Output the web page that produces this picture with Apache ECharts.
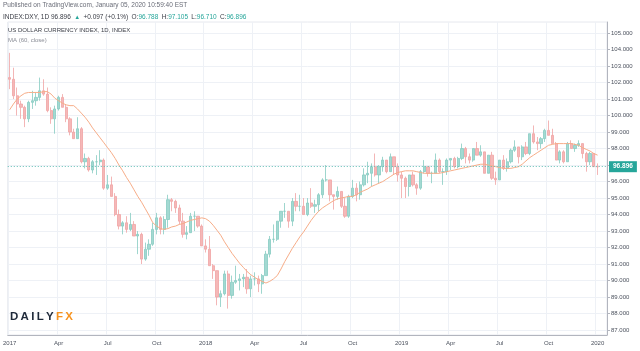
<!DOCTYPE html>
<html>
<head>
<meta charset="utf-8">
<title>US Dollar Currency Index</title>
<script src="https://cdn.jsdelivr.net/npm/echarts@6.0.0/dist/echarts.min.js"></script>
<style>
  html, body { margin: 0; padding: 0; background: #fff; }
  #main { width: 640px; height: 351px; }
</style>
</head>
<body>
<div id="main"></div>
<script>
// weekly bars, Jan 2017 - Jan 2020
var opens = [
  102.3, 102.2, 101.2, 100.7, 100.5, 99.8, 100.8, 100.9, 101.1, 101.5, 101.3, 100.3, 99.8,
  100.4, 101.1, 100.5, 99.8, 99.0, 98.6, 99.2, 97.2, 97.4, 96.7, 97.2, 97.2, 97.3,
  95.6, 95.8, 95.1, 94.0, 93.3, 93.5, 93.1, 93.4, 92.7, 92.8, 91.3, 91.9, 92.2,
  93.1, 93.8, 93.1, 93.7, 94.9, 94.8, 94.4, 93.6, 92.8, 92.9, 93.9, 93.9, 93.3,
  92.1, 91.9, 90.9, 90.6, 89.0, 89.2, 90.4, 89.1, 89.9, 90.0, 90.1, 90.2, 89.5,
  90.1, 90.1, 89.8, 90.3, 91.6, 92.5, 92.5, 93.6, 94.2, 94.2, 93.6, 94.8, 94.5,
  94.5, 94.0, 94.7, 94.5, 94.6, 95.2, 96.1, 96.1, 95.2, 95.1, 95.4, 94.5, 93.9,
  95.1, 95.6, 95.2, 95.8, 96.4, 96.5, 96.9, 96.4, 96.9, 97.3, 96.6, 97.5, 96.9,
  96.4, 96.2, 95.7, 96.4, 95.8, 95.6, 96.6, 96.9, 96.5, 96.5, 97.3, 96.6, 96.6,
  97.3, 97.4, 96.9, 97.4, 98.0, 97.5, 97.3, 98.0, 97.6, 97.8, 96.5, 97.6, 96.2,
  96.1, 97.3, 96.8, 97.2, 97.9, 98.1, 97.5, 98.1, 97.7, 98.9, 98.4, 98.3, 98.6,
  99.1, 98.8, 98.3, 97.3, 97.8, 97.2, 98.3, 98.0, 98.2, 98.3, 97.7, 97.2, 97.7,
  96.9
];
var highs = [
  103.8, 102.9, 101.7, 100.9, 100.6, 100.9, 101.5, 101.4, 102.3, 102.2, 101.7, 100.5, 100.6,
  101.2, 101.3, 100.7, 99.9, 99.2, 99.9, 99.3, 97.7, 97.5, 97.3, 97.6, 97.9, 97.4,
  96.4, 96.3, 95.3, 94.3, 93.6, 93.9, 94.1, 93.6, 93.0, 92.9, 92.3, 92.5, 93.5,
  94.1, 93.9, 93.9, 95.2, 95.0, 94.9, 94.6, 94.1, 93.3, 94.1, 94.2, 93.9, 93.4,
  92.5, 92.7, 91.0, 90.6, 89.4, 90.6, 90.6, 90.3, 90.9, 90.4, 90.4, 90.7, 90.3,
  90.5, 90.3, 90.4, 91.8, 92.7, 93.4, 93.6, 94.2, 94.7, 94.2, 95.0, 95.3, 95.2,
  95.0, 95.0, 95.6, 94.9, 95.3, 96.2, 97.0, 96.1, 95.2, 95.7, 95.4, 95.0, 95.2,
  96.1, 95.9, 96.0, 96.8, 97.2, 97.1, 97.7, 97.0, 97.5, 97.3, 97.7, 97.5, 97.1,
  96.6, 96.3, 96.4, 96.6, 95.9, 96.7, 97.3, 96.9, 96.6, 97.7, 97.4, 96.8, 97.4,
  97.4, 97.5, 97.5, 98.3, 98.1, 97.7, 98.0, 98.4, 98.2, 97.8, 97.6, 97.8, 96.6,
  97.3, 97.6, 97.4, 98.0, 98.5, 98.1, 98.2, 98.4, 98.9, 99.4, 98.7, 98.7, 99.2,
  99.7, 99.2, 98.4, 97.9, 97.9, 98.4, 98.5, 98.3, 98.5, 98.3, 97.8, 97.8, 97.7,
  97.1
];
var lows = [
  101.6, 101.0, 100.0, 99.8, 99.3, 99.6, 100.4, 100.6, 100.9, 101.2, 100.2, 99.5, 98.9,
  100.3, 100.5, 99.6, 98.8, 98.6, 98.6, 97.1, 96.8, 96.6, 96.5, 96.4, 97.0, 95.5,
  95.5, 95.1, 93.9, 93.1, 92.8, 92.9, 93.0, 92.7, 91.6, 91.0, 91.2, 91.5, 92.1,
  92.8, 92.8, 92.8, 93.2, 94.2, 94.1, 93.4, 92.6, 92.5, 92.9, 93.0, 93.2, 92.1,
  91.7, 90.9, 90.1, 88.5, 88.4, 89.1, 88.3, 88.9, 89.8, 89.4, 89.6, 89.2, 89.0,
  89.7, 89.3, 89.2, 90.3, 91.4, 92.3, 92.4, 93.2, 93.8, 93.2, 93.3, 94.2, 94.2,
  94.0, 93.9, 94.4, 94.1, 94.2, 95.0, 96.0, 94.8, 94.3, 94.9, 94.4, 93.8, 93.8,
  95.0, 94.8, 94.9, 95.7, 95.9, 95.7, 96.3, 95.9, 96.6, 96.5, 96.6, 96.4, 96.0,
  95.0, 95.0, 95.1, 95.7, 95.2, 95.5, 96.5, 96.3, 95.9, 96.5, 96.5, 95.8, 96.4,
  96.7, 96.8, 96.8, 97.3, 97.1, 97.1, 97.2, 97.6, 97.5, 96.5, 96.5, 96.1, 95.8,
  96.1, 96.7, 96.6, 97.1, 97.8, 97.1, 97.3, 97.6, 97.6, 98.3, 97.9, 98.0, 98.4,
  98.8, 98.3, 97.3, 97.1, 97.1, 97.2, 98.0, 97.8, 98.1, 97.4, 96.6, 97.0, 96.9,
  96.4
];
var closes = [
  102.2, 101.2, 100.7, 100.5, 99.8, 100.8, 100.9, 101.1, 101.5, 101.3, 100.3, 99.8, 100.4,
  101.1, 100.5, 99.8, 99.0, 98.6, 99.2, 97.2, 97.4, 96.7, 97.2, 97.2, 97.3, 95.6,
  95.8, 95.1, 94.0, 93.3, 93.5, 93.1, 93.4, 92.7, 92.8, 91.3, 91.9, 92.2, 93.1,
  93.8, 93.1, 93.7, 94.9, 94.8, 94.4, 93.6, 92.8, 92.9, 93.9, 93.9, 93.3, 92.1,
  91.9, 90.9, 90.6, 89.0, 89.2, 90.4, 89.1, 89.9, 90.0, 90.1, 90.2, 89.5, 90.1,
  90.1, 89.8, 90.3, 91.6, 92.5, 92.5, 93.6, 94.2, 94.2, 93.6, 94.8, 94.5, 94.5,
  94.0, 94.7, 94.5, 94.6, 95.2, 96.1, 96.1, 95.2, 95.1, 95.4, 94.5, 93.9, 95.1,
  95.6, 95.2, 95.8, 96.4, 96.5, 96.9, 96.4, 96.9, 97.3, 96.6, 97.5, 96.9, 96.4,
  96.2, 95.7, 96.4, 95.8, 95.6, 96.6, 96.9, 96.5, 96.5, 97.3, 96.6, 96.6, 97.3,
  97.4, 96.9, 97.4, 98.0, 97.5, 97.3, 98.0, 97.6, 97.8, 96.5, 97.6, 96.2, 96.1,
  97.3, 96.8, 97.2, 97.9, 98.1, 97.5, 98.1, 97.7, 98.9, 98.4, 98.3, 98.6, 99.1,
  98.8, 98.3, 97.3, 97.8, 97.2, 98.3, 98.0, 98.2, 98.3, 97.7, 97.2, 97.7, 96.9,
  96.896
];
// MA (60, close) as drawn on the chart
var ma60 = [
  100.35, 100.7, 101.0, 101.2, 101.35, 101.4, 101.4, 101.4, 101.4, 101.45, 101.45, 101.3, 101.05,
  100.9, 100.75, 100.65, 100.6, 100.6, 100.4, 100.15, 99.9, 99.6, 99.25, 98.95, 98.65, 98.35,
  98.05, 97.75, 97.4, 97.0, 96.65, 96.25, 95.9, 95.5, 95.1, 94.75, 94.35, 93.95, 93.5,
  93.3, 93.15, 93.1, 93.15, 93.25, 93.3, 93.4, 93.45, 93.55, 93.65, 93.7, 93.75, 93.8,
  93.75, 93.6, 93.35, 93.05, 92.75, 92.35, 92.0, 91.65, 91.35, 91.05, 90.8, 90.55, 90.35,
  90.2, 90.05, 89.95, 89.85, 89.95, 90.1, 90.3, 90.7, 91.15, 91.55, 91.95, 92.3, 92.65,
  92.95, 93.3, 93.65, 93.95, 94.2, 94.4, 94.55, 94.7, 94.85, 94.95, 95.0, 95.05, 95.1,
  95.1, 95.2, 95.35, 95.45, 95.55, 95.7, 95.8, 95.9, 96.0, 96.15, 96.3, 96.45, 96.55,
  96.6, 96.65, 96.65, 96.65, 96.6, 96.55, 96.5, 96.5, 96.5, 96.5, 96.5, 96.55, 96.6,
  96.65, 96.7, 96.75, 96.8, 96.85, 96.9, 96.95, 97.0, 97.05, 97.05, 97.0, 96.95, 96.9,
  96.85, 96.8, 96.8, 96.8, 96.85, 96.9, 97.05, 97.25, 97.45, 97.6, 97.75, 97.9, 98.05,
  98.2, 98.25, 98.3, 98.3, 98.3, 98.3, 98.3, 98.25, 98.2, 98.05, 97.95, 97.85, 97.7,
  97.6
];
var yTicks = [87, 88, 89, 90, 91, 92, 93, 94, 95, 96, 97, 98, 99, 100, 101, 102, 103, 104, 105];
var monthNames = ['Jan', 'Feb', 'Mar', 'Apr', 'May', 'Jun', 'Jul', 'Aug', 'Sep', 'Oct', 'Nov', 'Dec'];

// week-ending Fridays, plus two empty slots on the right
var weeks = [];
var start = Date.UTC(2017, 0, 6);
for (var i = 0; i < closes.length + 2; i++) {
    weeks.push(new Date(start + i * 7 * 86400000).toISOString().slice(0, 10));
}

var candles = [];
for (var j = 0; j < closes.length; j++) {
    candles.push([opens[j], closes[j], lows[j], highs[j]]);
}
var lastPrice = closes[closes.length - 1];

function isQuarterStart(index, value) {
    var m = +value.slice(5, 7), d = +value.slice(8, 10);
    return d <= 7 && (m === 1 || m === 4 || m === 7 || m === 10);
}

var font = 'Liberation Sans, DejaVu Sans, sans-serif';
var myChart = echarts.init(document.getElementById('main'));

option = {
    animation: false,
    backgroundColor: '#fff',
    grid: {
        left: 4,
        right: 33,
        top: 22,
        bottom: 16,
        show: true,
        borderColor: '#e6e8ee',
        borderWidth: 1
    },
    xAxis: {
        type: 'category',
        data: weeks,
        boundaryGap: true,
        axisLine: { lineStyle: { color: '#b2b5be', width: 1 } },
        axisTick: { show: false },
        splitLine: {
            show: true,
            interval: isQuarterStart,
            lineStyle: { color: '#eef1f6', width: 1 }
        },
        axisLabel: {
            interval: isQuarterStart,
            margin: 5,
            color: '#4c525e',
            fontSize: 6,
            fontFamily: font,
            formatter: function (value) {
                var m = +value.slice(5, 7);
                return m === 1 ? value.slice(0, 4) : monthNames[m - 1];
            }
        }
    },
    yAxis: {
        type: 'value',
        position: 'right',
        min: 86.7,
        max: 105.67,
        axisLine: { show: true, lineStyle: { color: '#b2b5be', width: 1 } },
        axisTick: { show: true, length: 3, customValues: yTicks, lineStyle: { color: '#b2b5be' } },
        splitLine: { show: true, lineStyle: { color: '#eef1f6', width: 1 } },
        axisLabel: {
            customValues: yTicks,
            margin: 4,
            color: '#4c525e',
            fontSize: 6,
            fontFamily: font,
            formatter: function (v) { return v.toFixed(3); }
        }
    },
    series: [
        {
            name: 'INDEX:DXY',
            type: 'candlestick',
            data: candles,
            barWidth: '72%',
            itemStyle: {
                color: '#a3d9d2',
                color0: '#f5b8b8',
                borderColor: '#86cbc1',
                borderColor0: '#f0a3a3',
                borderWidth: 0.8
            },
            markLine: {
                silent: true,
                symbol: 'none',
                data: [{ yAxis: lastPrice }],
                lineStyle: { color: '#5fbdb3', type: [1, 2], width: 1 },
                label: {
                    position: 'end',
                    distance: 2,
                    formatter: lastPrice.toFixed(3),
                    backgroundColor: '#26a69a',
                    color: '#fff',
                    fontSize: 6.5,
                    fontWeight: 'bold',
                    fontFamily: font,
                    padding: [2, 4, 2, 4]
                }
            }
        },
        {
            name: 'MA (60, close)',
            type: 'line',
            data: ma60,
            symbol: 'none',
            lineStyle: { color: '#f7ad88', width: 1 }
        }
    ],
    graphic: [
        {
            type: 'text', left: 3, top: 2, z: 100,
            style: { text: 'Published on TradingView.com, January 05, 2020 10:59:40 EST', fill: '#6a6d78', font: '6.5px ' + font }
        },
        {
            type: 'text', left: 3, top: 11, z: 100,
            style: {
                text: '{k|INDEX:DXY, 1D 96.896} {u|▲} {k|+0.097 (+0.1%)} {k|O:}{v|96.788} {k|H:}{v|97.105} {k|L:}{v|96.710} {k|C:}{v|96.896}',
                rich: {
                    k: { fill: '#3a3d46', fontSize: 6.5, fontFamily: font },
                    u: { fill: '#26a69a', fontSize: 6, fontFamily: font },
                    v: { fill: '#26a69a', fontSize: 6.5, fontFamily: font }
                }
            }
        },
        {
            type: 'text', left: 8, top: 27, z: 100,
            style: { text: 'US DOLLAR CURRENCY INDEX, 1D, INDEX', fill: '#3a3d46', font: '6px ' + font }
        },
        {
            type: 'text', left: 8, top: 37, z: 100,
            style: { text: 'MA (60, close)', fill: '#8a8d96', font: '6px ' + font }
        },
        {
            type: 'text', left: 10, top: 311, z: 100,
            style: {
                text: '{d|D\u2009A\u2009I\u2009L\u2009Y}{f|\u2009F\u2009X}',
                rich: {
                    d: { fill: '#1f2a3a', fontSize: 11.5, fontWeight: 'bold', fontFamily: font },
                    f: { fill: '#f7931e', fontSize: 11.5, fontWeight: 'bold', fontFamily: font }
                }
            }
        }
    ]
};
myChart.setOption(option);
</script>
</body>
</html>
